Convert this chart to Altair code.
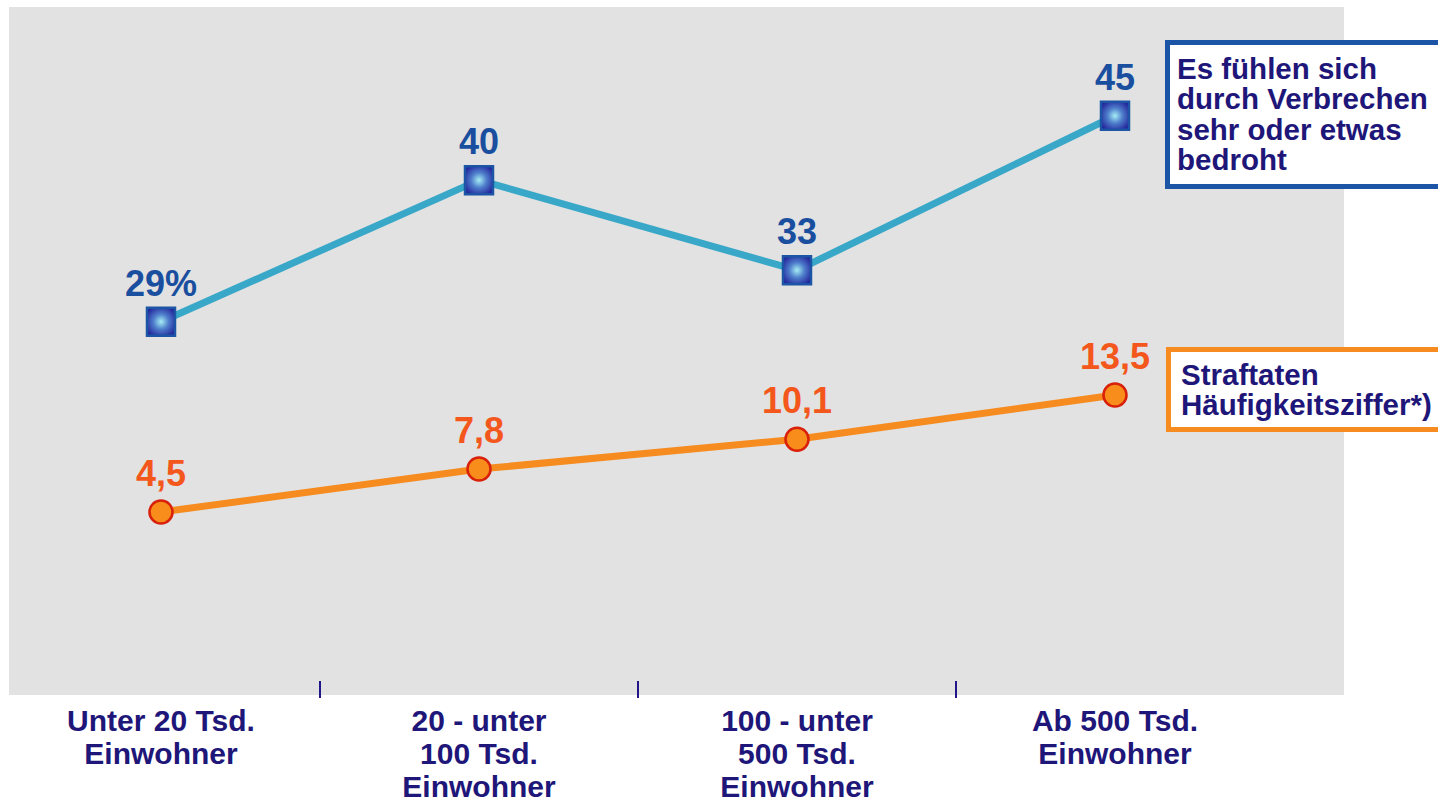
import altair as alt
import pandas as pd

# ---- data ----
categories = [
    "Unter 20 Tsd.\nEinwohner",
    "20 - unter\n100 Tsd.\nEinwohner",
    "100 - unter\n500 Tsd.\nEinwohner",
    "Ab 500 Tsd.\nEinwohner",
]
threat_values = [29, 40, 33, 45]
threat_labels = ["29%", "40", "33", "45"]
crime_values = [4.5, 7.8, 10.1, 13.5]
crime_labels = ["4,5", "7,8", "10,1", "13,5"]
legend_threat = ["Es fühlen sich\ndurch Verbrechen\nsehr oder etwas\nbedroht"]
legend_crime = ["Straftaten\nHäufigkeitsziffer*)"]

FONT = "Liberation Sans"
NAVY = "#1e1678"

blue_df = pd.DataFrame({"cat": categories, "v": threat_values, "lab": threat_labels})
orange_df = pd.DataFrame({"cat": categories, "v": crime_values, "lab": crime_labels})
tick_df = pd.DataFrame({"cat": categories[1:]})

xscale = alt.Scale(domain=categories, range=[-7, 1265], paddingInner=0, paddingOuter=0)

x_ax = alt.Axis(
    domain=False,
    ticks=False,
    grid=False,
    labelAngle=0,
    labelExpr="split(datum.label, '\\n')",
    labelFont=FONT,
    labelFontSize=30,
    labelFontWeight="bold",
    labelColor=NAVY,
    labelLineHeight=33,
    labelPadding=11,
    labelBaseline="top",
    labelLimit=500,
)
x_enc = alt.X("cat:N", scale=xscale, sort=categories, title=None, axis=x_ax)

# ---- blue series ----
yb = alt.Y("v:Q", scale=alt.Scale(domain=[0, 53.45], nice=False, zero=False), axis=None)
blue_base = alt.Chart(blue_df)
blue_line = blue_base.mark_line(color="#39a8c8", strokeWidth=7).encode(x=x_enc, y=yb)
blue_pts = blue_base.mark_point(
    shape="square",
    size=784,
    filled=True,
    opacity=1,
    fill=alt.RadialGradient(
        gradient="radial",
        x1=0.5, y1=0.5, r1=0,
        x2=0.5, y2=0.5, r2=0.6,
        stops=[
            alt.GradientStop(offset=0, color="#a6eef4"),
            alt.GradientStop(offset=0.45, color="#4f7fcc"),
            alt.GradientStop(offset=1, color="#23239a"),
        ],
    ),
    stroke="#1c55a5",
    strokeWidth=2.5,
).encode(x=x_enc, y=yb)
blue_txt = blue_base.mark_text(
    font=FONT, fontSize=36, fontWeight="bold", color="#1a4f9f",
    baseline="alphabetic", dy=-26,
).encode(x=x_enc, y=yb, text="lab:N")
blue = alt.layer(blue_line, blue_pts, blue_txt)

# ---- orange series ----
yo = alt.Y("v:Q", scale=alt.Scale(domain=[-9.58, 43.35], nice=False, zero=False), axis=None)
o_base = alt.Chart(orange_df)
o_line = o_base.mark_line(color="#f68b1f", strokeWidth=7).encode(x=x_enc, y=yo)
o_pts = o_base.mark_point(
    shape="circle", size=531, filled=True, opacity=1,
    fill="#f88d1c", stroke="#d8200a", strokeWidth=2.5,
).encode(x=x_enc, y=yo)
o_txt = o_base.mark_text(
    font=FONT, fontSize=36, fontWeight="bold", color="#f4571c",
    baseline="alphabetic", dy=-26,
).encode(x=x_enc, y=yo, text="lab:N")
orange = alt.layer(o_line, o_pts, o_txt)

# ---- category boundary ticks ----
ticks = alt.Chart(tick_df).mark_rule(color="#20168a", strokeWidth=2).encode(
    x=alt.X("cat:N", scale=xscale, sort=categories, title=None, axis=x_ax, bandPosition=0),
    y=alt.value(674),
    y2=alt.value(691),
)

# ---- legend boxes ----
lt_df = pd.DataFrame({"t": legend_threat})
lc_df = pd.DataFrame({"t": legend_crime})
box_threat = alt.Chart(lt_df).mark_rect(
    fill="white", stroke="#1c55a5", strokeWidth=5
).encode(x=alt.value(1158.5), x2=alt.value(1520), y=alt.value(35.5), y2=alt.value(179.5))
txt_threat = alt.Chart(lt_df).mark_text(
    font=FONT, fontSize=29.5, fontWeight="bold", color=NAVY, align="left",
    baseline="alphabetic", lineBreak="\n", lineHeight=30.3,
).encode(x=alt.value(1168), y=alt.value(72), text="t:N")
box_crime = alt.Chart(lc_df).mark_rect(
    fill="white", stroke="#f68b1f", strokeWidth=5
).encode(x=alt.value(1159.5), x2=alt.value(1520), y=alt.value(342.5), y2=alt.value(422.5))
txt_crime = alt.Chart(lc_df).mark_text(
    font=FONT, fontSize=29.5, fontWeight="bold", color=NAVY, align="left",
    baseline="alphabetic", lineBreak="\n", lineHeight=30,
).encode(x=alt.value(1172), y=alt.value(378), text="t:N")

chart = (
    alt.layer(blue, orange, ticks, box_threat, txt_threat, box_crime, txt_crime)
    .resolve_scale(y="independent")
    .properties(
        width=1335,
        height=688,
        autosize=alt.AutoSizeParams(type="none"),
        padding={"left": 9, "top": 7, "right": 94, "bottom": 109},
        background="white",
    )
    .configure_view(fill="#e2e2e2", strokeWidth=0)
)

chart.save("out.html", embed_options={"renderer": "svg", "actions": False})
